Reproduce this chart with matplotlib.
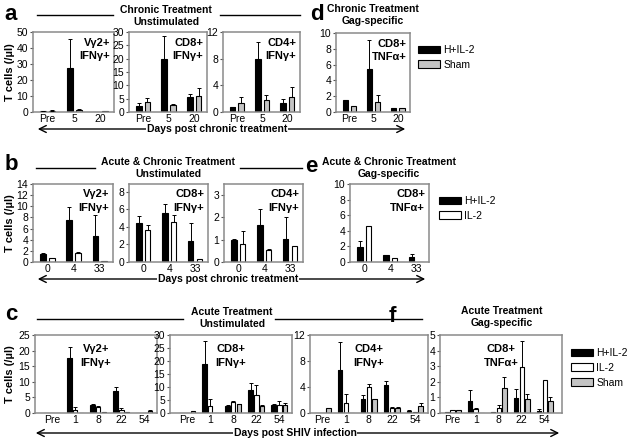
import numpy as np
import matplotlib
matplotlib.use("Agg")
import matplotlib.pyplot as plt
from matplotlib.patches import Patch, FancyArrowPatch

plt.rcParams['font.family'] = ['Liberation Sans', 'DejaVu Sans']

# ---- data (T cells per ul), bar value and upper SD ----
chronic_days = ['Pre', '5', '20']
acute_chronic_days = ['0', '4', '33']
shiv_days = ['Pre', '1', '8', '22', '54']

# a: chronic treatment, unstimulated (H+IL-2 vs Sham)
a_vg2_h = [0.6, 27.3, 0.2]
a_vg2_h_err = [0.15, 18.3, 0]
a_vg2_s = [0.8, 1.5, 0.4]
a_vg2_s_err = [0.2, 0.2, 0]
a_cd8_h = [2.4, 19.9, 5.5]
a_cd8_h_err = [1.0, 8.6, 1.1]
a_cd8_s = [3.9, 2.5, 5.9]
a_cd8_s_err = [1.4, 0.5, 3.1]
a_cd4_h = [0.7, 7.9, 1.4]
a_cd4_h_err = [0.1, 2.6, 0.5]
a_cd4_s = [1.4, 1.8, 2.2]
a_cd4_s_err = [0.8, 0.8, 1.5]
# d: chronic treatment, gag-specific
d_h = [1.5, 5.45, 0.47]
d_h_err = [0, 3.65, 0]
d_s = [0.7, 1.3, 0.5]
d_s_err = [0, 0.8, 0]

# b: acute & chronic treatment, unstimulated (H+IL-2 vs IL-2)
b_vg2_h = [1.4, 7.5, 4.6]
b_vg2_h_err = [0.3, 2.3, 3.9]
b_vg2_i = [0.8, 1.7, 0.2]
b_vg2_i_err = [0, 0.15, 0]
b_cd8_h = [4.4, 5.6, 2.4]
b_cd8_h_err = [0.85, 1.0, 2.1]
b_cd8_i = [3.7, 4.6, 0.3]
b_cd8_i_err = [0.5, 0.8, 0]
b_cd4_h = [1.0, 1.66, 1.05]
b_cd4_h_err = [0.05, 0.74, 0.95]
b_cd4_i = [0.8, 0.55, 0.7]
b_cd4_i_err = [0.6, 0.03, 0]
# e: acute & chronic treatment, gag-specific
e_h = [1.95, 0.85, 0.65]
e_h_err = [0.7, 0, 0.35]
e_i = [4.6, 0.5, 0]
e_i_err = [0, 0, 0]

# c: acute treatment, unstimulated (H+IL-2, IL-2, Sham)
c_vg2_h = [0, 17.5, 2.6, 7.2, 0.1]
c_vg2_h_err = [0, 3.7, 0.4, 1.2, 0]
c_vg2_i = [0, 1.1, 1.8, 1.1, 0.05]
c_vg2_i_err = [0, 0.7, 0.45, 0.4, 0]
c_vg2_s = [0, 0, 0.2, 0.4, 0.75]
c_vg2_s_err = [0, 0, 0, 0, 0.25]
c_cd8_h = [0, 19.0, 2.8, 8.8, 3.2]
c_cd8_h_err = [0, 8.8, 0.2, 2.8, 0.2]
c_cd8_i = [0, 2.8, 4.3, 7.0, 3.1]
c_cd8_i_err = [0, 2.7, 0.3, 3.6, 1.4]
c_cd8_s = [0.8, 0, 3.3, 2.8, 3.1]
c_cd8_s_err = [0, 0, 0.3, 0.3, 0.9]
c_cd4_h = [0, 6.6, 2.2, 4.3, 0.35]
c_cd4_h_err = [0, 4.4, 0.6, 0.7, 0.15]
c_cd4_i = [0, 1.6, 4.0, 0.8, 0.2]
c_cd4_i_err = [0, 1.4, 0.4, 0.1, 0]
c_cd4_s = [0.7, 0, 2.1, 0.7, 1.1]
c_cd4_s_err = [0, 0, 0.1, 0.2, 0.4]
# f: acute treatment, gag-specific
f_h = [0.08, 0.75, 0.08, 0.97, 0.1]
f_h_err = [0, 0.75, 0, 0.58, 0.18]
f_i = [0.2, 0.24, 0.3, 2.96, 2.1]
f_i_err = [0, 0.11, 0.2, 1.67, 0]
f_s = [0.2, 0, 1.63, 0.92, 0.8]
f_s_err = [0, 0, 0.67, 0.33, 0.2]

COL_H = 'black'
COL_I = 'white'
COL_S = '#c4c4c4'
SPINE = '#8a8a8a'

W, H = 628, 443
fig = plt.figure(figsize=(W / 100, H / 100), dpi=100)


def ax_at(l, t, r, b):
    return fig.add_axes([l / W, 1 - b / H, (r - l) / W, (b - t) / H])


def ftext(x, y, s, **kw):
    fig.text(x / W, 1 - y / H, s, **kw)


def bars(ax, labels, series, ylim, yticks, width, offsets, xlim, cell, cell_pos):
    x = np.arange(len(labels))
    for (vals, errs, col), off in zip(series, offsets):
        ax.bar(x + off, vals, width, color=col, edgecolor='black', linewidth=0.8, zorder=2)
        errs = np.array(errs, dtype=float)
        m = errs > 0
        if m.any():
            ax.errorbar((x + off)[m], np.array(vals)[m],
                        yerr=[np.zeros(m.sum()), errs[m]], fmt='none',
                        ecolor='black', elinewidth=0.7, capsize=1.6, capthick=0.7, zorder=3)
    ax.set_xlim(*xlim)
    ax.set_ylim(*ylim)
    ax.set_yticks(yticks)
    ax.set_xticks(x)
    ax.set_xticklabels(labels)
    ax.tick_params(axis='x', length=0, pad=1.5, labelsize=7.5)
    ax.tick_params(axis='y', length=2.5, width=0.8, pad=1, labelsize=7.5, color='#555555')
    for sp in ax.spines.values():
        sp.set_color(SPINE)
        sp.set_linewidth(1.1)
    ha = 'right' if cell_pos[0] > 0.7 else 'center'
    ax.text(cell_pos[0], cell_pos[1], cell, transform=ax.transAxes, ha=ha, va='top',
            fontsize=8, fontweight='bold', linespacing=1.4)


two = [-0.17, 0.17]
three = [-0.25, 0, 0.25]
tr = (0.95, 0.93)
mid = (0.5, 0.88)

# row a / d
ax = ax_at(33, 32, 114, 112)
bars(ax, chronic_days, [(a_vg2_h, a_vg2_h_err, COL_H), (a_vg2_s, a_vg2_s_err, COL_S)],
     (0, 50), range(0, 51, 10), 0.22, two, (-0.55, 2.5), 'Vγ2+\nIFNγ+', tr)
ax = ax_at(129, 32, 207, 112)
bars(ax, chronic_days, [(a_cd8_h, a_cd8_h_err, COL_H), (a_cd8_s, a_cd8_s_err, COL_S)],
     (0, 30), range(0, 31, 5), 0.22, two, (-0.55, 2.5), 'CD8+\nIFNγ+', tr)
ax = ax_at(223, 32, 300, 112)
bars(ax, chronic_days, [(a_cd4_h, a_cd4_h_err, COL_H), (a_cd4_s, a_cd4_s_err, COL_S)],
     (0, 12), range(0, 13, 4), 0.22, two, (-0.55, 2.5), 'CD4+\nIFNγ+', tr)
ax = ax_at(336, 33, 410, 112)
bars(ax, chronic_days, [(d_h, d_h_err, COL_H), (d_s, d_s_err, COL_S)],
     (0, 10), range(0, 11, 2), 0.22, two, (-0.55, 2.5), 'CD8+\nTNFα+', tr)

# row b / e
ax = ax_at(33, 184, 113, 262)
bars(ax, acute_chronic_days, [(b_vg2_h, b_vg2_h_err, COL_H), (b_vg2_i, b_vg2_i_err, COL_I)],
     (0, 14), range(0, 15, 2), 0.22, two, (-0.55, 2.5), 'Vγ2+\nIFNγ+', tr)
ax = ax_at(129, 184, 208, 262)
bars(ax, acute_chronic_days, [(b_cd8_h, b_cd8_h_err, COL_H), (b_cd8_i, b_cd8_i_err, COL_I)],
     (0, 8.9), range(0, 9, 2), 0.22, two, (-0.55, 2.5), 'CD8+\nIFNγ+', tr)
ax = ax_at(224, 184, 303, 262)
bars(ax, acute_chronic_days, [(b_cd4_h, b_cd4_h_err, COL_H), (b_cd4_i, b_cd4_i_err, COL_I)],
     (0, 3.5), range(0, 4), 0.22, two, (-0.55, 2.5), 'CD4+\nIFNγ+', tr)
ax = ax_at(350, 184, 429, 262)
bars(ax, acute_chronic_days, [(e_h, e_h_err, COL_H), (e_i, e_i_err, COL_I)],
     (0, 10), range(0, 11, 2), 0.22, two, (-0.55, 2.5), 'CD8+\nTNFα+', tr)

# row c / f
ax = ax_at(35, 335, 157, 413)
bars(ax, shiv_days, [(c_vg2_h, c_vg2_h_err, COL_H), (c_vg2_i, c_vg2_i_err, COL_I), (c_vg2_s, c_vg2_s_err, COL_S)],
     (0, 25), range(0, 26, 5), 0.19, three, (-0.75, 4.55), 'Vγ2+\nIFNγ+', mid)
ax = ax_at(170, 335, 292, 413)
bars(ax, shiv_days, [(c_cd8_h, c_cd8_h_err, COL_H), (c_cd8_i, c_cd8_i_err, COL_I), (c_cd8_s, c_cd8_s_err, COL_S)],
     (0, 30), range(0, 31, 5), 0.19, three, (-0.75, 4.55), 'CD8+\nIFNγ+', mid)
ax = ax_at(310, 335, 428, 413)
bars(ax, shiv_days, [(c_cd4_h, c_cd4_h_err, COL_H), (c_cd4_i, c_cd4_i_err, COL_I), (c_cd4_s, c_cd4_s_err, COL_S)],
     (0, 12), range(0, 13, 4), 0.19, three, (-0.55, 4.57), 'CD4+\nIFNγ+', mid)
ax = ax_at(440, 335, 562, 413)
bars(ax, shiv_days, [(f_h, f_h_err, COL_H), (f_i, f_i_err, COL_I), (f_s, f_s_err, COL_S)],
     (0, 5), range(0, 6), 0.19, three, (-0.55, 4.75), 'CD8+\nTNFα+', mid)

# y labels
for yc in (72, 223, 374):
    ftext(10, yc, 'T cells (/µl)', rotation=90, ha='center', va='center',
          fontsize=8, fontweight='bold')

# panel letters
for x, y, s in [(11, 15, 'a'), (317, 15, 'd'), (11, 165, 'b'), (311, 167, 'e'),
                (11, 314, 'c'), (392, 317, 'f')]:
    ftext(x, y, s, ha='center', va='center', fontsize=16, fontweight='bold')

# group titles with side rules
tkw = dict(ha='center', va='center', fontsize=7.5, fontweight='bold', linespacing=1.3)
ftext(166, 16, 'Chronic Treatment\nUnstimulated', **tkw)
ftext(373, 15, 'Chronic Treatment\nGag-specific', **tkw)
ftext(168, 168, 'Acute & Chronic Treatment\nUnstimulated', **tkw)
ftext(389, 168, 'Acute & Chronic Treatment\nGag-specific', **tkw)
ftext(232, 318, 'Acute Treatment\nUnstimulated', **tkw)
ftext(502, 317, 'Acute Treatment\nGag-specific', **tkw)
for x0, x1, y in [(37, 113, 15), (220, 300, 15), (36, 95, 168), (240, 302, 168),
                  (37, 183, 319), (275, 422, 319)]:
    fig.add_artist(plt.Line2D([x0 / W, x1 / W], [1 - y / H, 1 - y / H], color='black', lw=1.0))

# day arrows
for x0, x1, y, xt, s in [(35, 408, 129, 217, 'Days post chronic treatment'),
                         (35, 428, 279, 228, 'Days post chronic treatment'),
                         (33, 562, 433, 295, 'Days post SHIV infection')]:
    fig.add_artist(FancyArrowPatch(
        (x0 / W, 1 - y / H), (x1 / W, 1 - y / H), transform=fig.transFigure,
        arrowstyle='<->,head_length=5,head_width=2.5', color='black', lw=1.0))
    ftext(xt, y, s, ha='center', va='center', fontsize=7.5, fontweight='bold',
          bbox=dict(facecolor='white', edgecolor='none', pad=0.6))


# legends
def patch(c):
    return Patch(facecolor=c, edgecolor='black', linewidth=0.8)


lkw = dict(frameon=False, fontsize=7.5, handlelength=2.1, handleheight=0.75,
           handletextpad=0.3, labelspacing=0.45, borderpad=0, loc='upper left')
fig.legend([patch(COL_H), patch(COL_S)], ['H+IL-2', 'Sham'],
           bbox_to_anchor=(413 / W, 1 - 40 / H), **lkw)
fig.legend([patch(COL_H), patch(COL_I)], ['H+IL-2', 'IL-2'],
           bbox_to_anchor=(434 / W, 1 - 191 / H), **lkw)
fig.legend([patch(COL_H), patch(COL_I), patch(COL_S)], ['H+IL-2', 'IL-2', 'Sham'],
           bbox_to_anchor=(566 / W, 1 - 343 / H), **lkw)

fig.savefig('out.png', dpi=100)
